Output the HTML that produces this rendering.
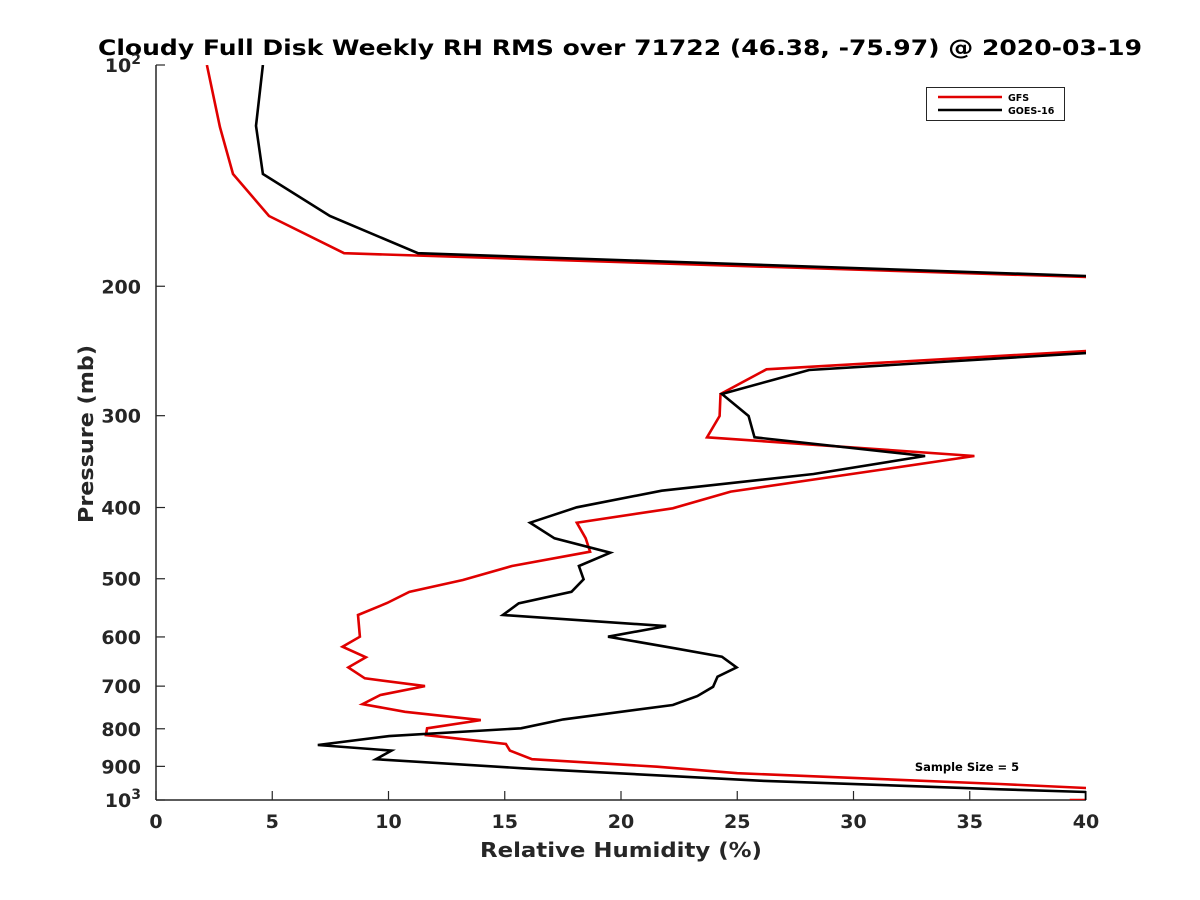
<!DOCTYPE html>
<html><head><meta charset="utf-8"><style>
body{margin:0;background:#fff;}
svg{display:block;font-family:"DejaVu Sans","Liberation Sans",sans-serif;}
</style></head><body>
<svg id="chart" width="1200" height="900" viewBox="0 0 1200 900">
<rect width="1200" height="900" fill="#fff"/>
<text x="620" y="55" text-anchor="middle" font-size="21" font-weight="bold" fill="#000" textLength="1044" lengthAdjust="spacingAndGlyphs">Cloudy Full Disk Weekly RH RMS over 71722 (46.38, -75.97) @ 2020-03-19</text>
<defs><clipPath id="plotclip"><rect x="156" y="65" width="930" height="735"/></clipPath></defs>
<g id="axes"></g>
<g id="series" clip-path="url(#plotclip)"></g>
<text x="621" y="857" text-anchor="middle" font-size="20" font-weight="bold" fill="#262626" textLength="282" lengthAdjust="spacingAndGlyphs">Relative Humidity (%)</text>
<text transform="translate(93,434) rotate(-90)" text-anchor="middle" font-size="20" font-weight="bold" fill="#262626" textLength="178" lengthAdjust="spacingAndGlyphs">Pressure (mb)</text>
<text x="967" y="771" text-anchor="middle" font-size="11.5" font-weight="bold" fill="#000">Sample Size = 5</text>
<g>
<rect x="926.5" y="87.5" width="138" height="33" fill="#fff" stroke="#262626" stroke-width="1"/>
<line x1="938" y1="97" x2="1002" y2="97" stroke="#e00000" stroke-width="2.5"/>
<text x="1008" y="101" font-size="9.5" font-weight="bold">GFS</text>
<line x1="938" y1="110" x2="1002" y2="110" stroke="#000" stroke-width="2.5"/>
<text x="1008" y="114" font-size="9.5" font-weight="bold">GOES-16</text>
</g>
</svg>
<script>
const xTicks = [0,5,10,15,20,25,30,35,40];
const yTicks = [100,200,300,400,500,600,700,800,900,1000];
const yTickLabels = ["10^2","200","300","400","500","600","700","800","900","10^3"];
const gfsPressure = [100,121.4,140.7,160.5,180.3,194.3,220,245.0,259.4,280.3,300.3,321.0,340.4,355.6,380.6,401.0,419.5,440.5,459.4,480.4,502,520.8,539.5,560.2,599.5,618.6,639.6,660,683,699.8,719.7,740.4,758.5,778.5,798.9,816,839,856.7,880.1,900.8,919.6,951.1,963.2,980,1000,1000];
const gfsRH = [2.19,2.75,3.31,4.86,8.09,40,70,40,26.26,24.28,24.24,23.7,35.2,31.1,24.72,22.23,18.1,18.48,18.67,15.31,13.2,10.9,9.94,8.69,8.77,8.02,9.03,8.27,8.98,11.57,9.65,8.88,10.71,13.97,11.66,11.61,15.05,15.22,16.17,21.55,25.0,36.3,40,45,40,39.3];
const goesPressure = [100,121,140.7,160.5,180.3,193.7,220,246.6,260,280.3,300.3,321.0,340.4,360.1,379.5,399.7,419.5,440.5,460.8,480.4,500.9,520.8,540,560.2,579.9,599.5,621.7,638.3,660,679.6,701.4,722.1,742.7,776.8,798.9,818.5,841.6,856.7,880.1,905.4,941.3,966.9,975.2,1000];
const goesRH = [4.6,4.3,4.6,7.48,11.27,40,70,40,28.09,24.34,25.49,25.74,33.08,28.28,21.75,18.1,16.09,17.14,19.54,18.19,18.39,17.87,15.6,14.92,21.94,19.44,22.32,24.34,24.97,24.15,23.96,23.28,22.23,17.52,15.7,10.03,6.96,10.13,9.46,15.78,25.97,36.3,40,40];

const NS='http://www.w3.org/2000/svg';
const X0=156,X1=1086,Y0=65,Y1=800;
const xs=v=>X0+(v-0)/(40-0)*(X1-X0);
const ys=p=>Y0+(Math.log10(p)-2)*(Y1-Y0);
function mk(tag,attrs,parent){const e=document.createElementNS(NS,tag);for(const k in attrs)e.setAttribute(k,attrs[k]);parent.appendChild(e);return e;}
const axes=document.getElementById('axes');
const xa=mk('line',{x1:X0,y1:Y1,x2:X1,y2:Y1,stroke:'#262626','stroke-width':1.5},axes);


const ya=mk('line',{x1:X0,y1:Y0,x2:X0,y2:Y1,stroke:'#262626','stroke-width':1.5},axes);


xTicks.forEach(v=>{
  const x=xs(v);
  mk('line',{x1:x,y1:Y1,x2:x,y2:Y1-9,stroke:'#262626','stroke-width':1.2},axes);
  const t=mk('text',{x:x,y:828,'text-anchor':'middle','font-size':19,'font-weight':'bold',fill:'#262626'},axes);
  t.textContent=v;
  
  
});
yTicks.forEach((p,i)=>{
  const y=ys(p);
  mk('line',{x1:X0,y1:y,x2:X0+9,y2:y,stroke:'#262626','stroke-width':1.2},axes);
  const lab=yTickLabels[i];
  const t=mk('text',{x:141,y:y+7,'text-anchor':'end','font-size':19,'font-weight':'bold',fill:'#262626'},axes);
  if(lab.indexOf('^')>=0){
    const parts=lab.split('^');
    const a=mk('tspan',{},t);a.textContent=parts[0];
    const b=mk('tspan',{dy:-8,'font-size':14},t);b.textContent=parts[1];
  } else t.textContent=lab;
  
  
});
const series=document.getElementById('series');
function line(P,V,color,name){
  const d=P.map((p,i)=>(i?'L':'M')+xs(V[i]).toFixed(1)+','+ys(p).toFixed(1)).join('');
  const pa=mk('path',{d:d,fill:'none',stroke:color,'stroke-width':2.6,'stroke-linejoin':'miter'},series);
  
  
}
line(gfsPressure,gfsRH,'#e00000','gfs-line');
line(goesPressure,goesRH,'#000000','goes16-line');
</script>
</body></html>
